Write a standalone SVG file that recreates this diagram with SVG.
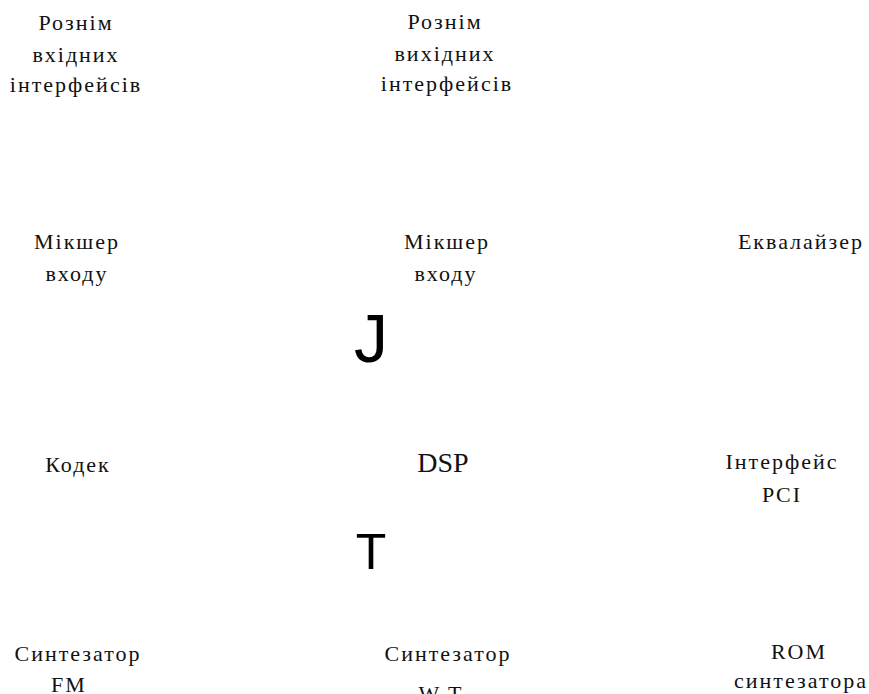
<svg xmlns="http://www.w3.org/2000/svg" width="869" height="694" viewBox="0 0 869 694">
<style>
.t{font-family:"Liberation Serif","Times New Roman",serif;font-size:22px;letter-spacing:2px;text-anchor:middle;fill:#111}
.d{font-family:"Liberation Serif","Times New Roman",serif;font-size:28px;text-anchor:middle;fill:#111}
.s{font-family:"Liberation Sans",Arial,sans-serif;text-anchor:middle;fill:#000}
</style>
<rect width="869" height="694" fill="#fff"/>
<g id="in-conn"><text class="t" x="76" y="30">Рознім</text><text class="t" x="76" y="62">вхідних</text><text class="t" x="76" y="92">інтерфейсів</text></g>
<g id="out-conn"><text class="t" x="445" y="29">Рознім</text><text class="t" x="445" y="61">вихідних</text><text class="t" x="447" y="91">інтерфейсів</text></g>
<g id="mixer1"><text class="t" x="77" y="249">Мікшер</text><text class="t" x="77" y="281">входу</text></g>
<g id="mixer2"><text class="t" x="447" y="249">Мікшер</text><text class="t" x="446" y="281">входу</text></g>
<g id="eq"><text class="t" x="801" y="249">Еквалайзер</text></g>
<g id="codec"><text class="t" x="78" y="472">Кодек</text></g>
<g id="dsp"><text class="d" x="443" y="472">DSP</text></g>
<g id="pci"><text class="t" x="782" y="469">Інтерфейс</text><text class="t" x="782" y="502">PCI</text></g>
<g id="fm"><text class="t" x="78" y="661">Синтезатор</text><text class="t" x="69" y="692">FM</text></g>
<g id="wt"><text class="t" x="448" y="661">Синтезатор</text><text class="t" x="441" y="701">W T</text></g>
<g id="rom"><text class="t" x="799" y="659">ROM</text><text class="t" x="801" y="688">синтезатора</text></g>
<g id="connectors">
<text class="s" x="371" y="362" font-size="68">J</text>
<text class="s" x="371" y="569" font-size="50">T</text>
</g>
</svg>
